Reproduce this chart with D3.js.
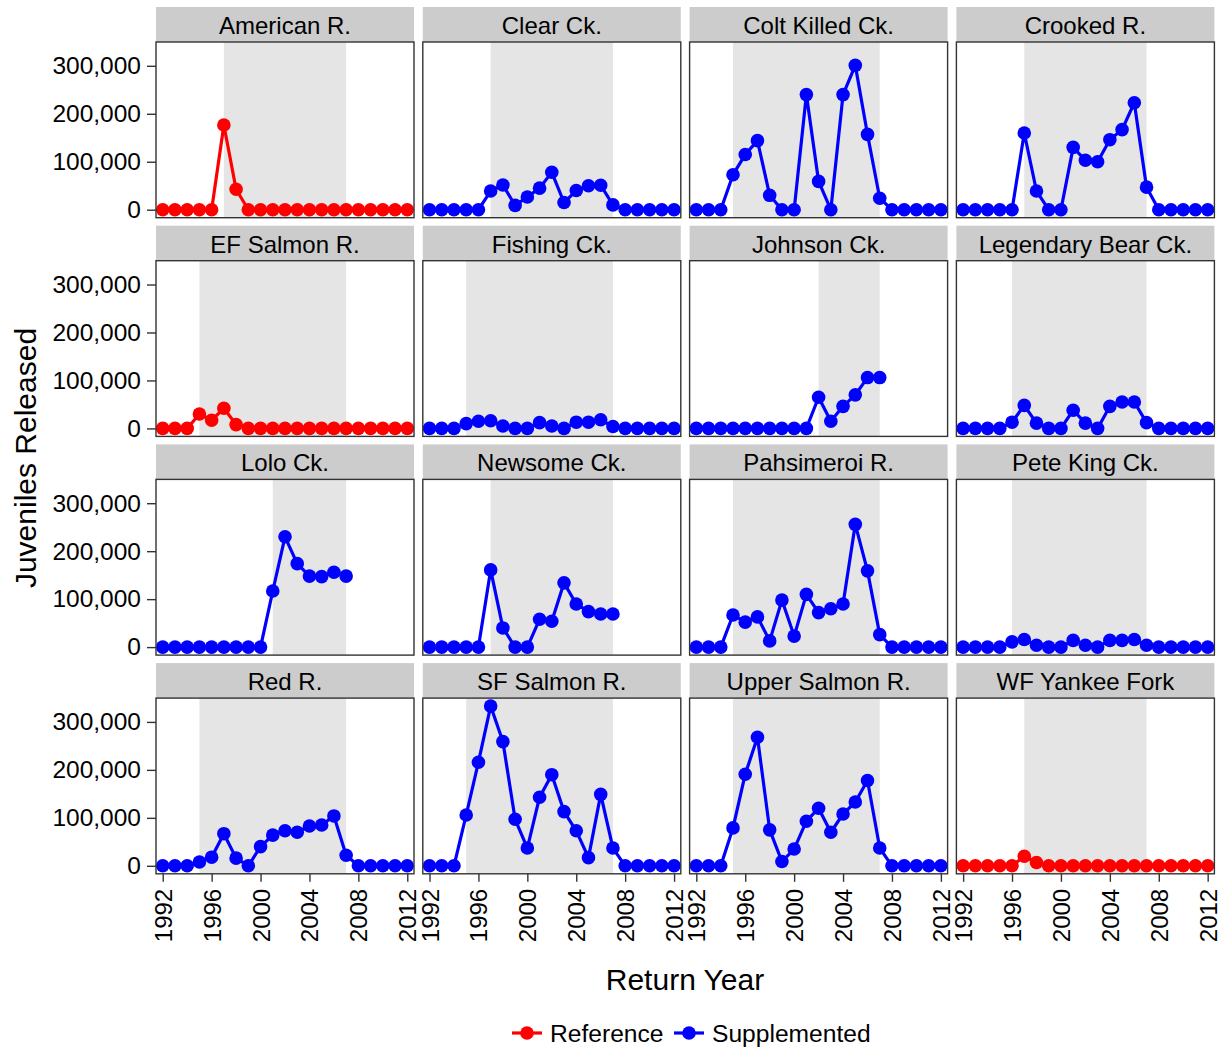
<!DOCTYPE html>
<html>
<head>
<meta charset="utf-8">
<script src="https://cdn.jsdelivr.net/npm/d3@7"></script>
<style>
  body { margin: 0; background: #fff; }
  text { font-family: "Liberation Sans", Arial, sans-serif; fill: #000; }
</style>
</head>
<body>
<svg id="chart" width="1228" height="1050"></svg>
<script>
const years = [1992, 1993, 1994, 1995, 1996, 1997, 1998, 1999, 2000, 2001, 2002,
  2003, 2004, 2005, 2006, 2007, 2008, 2009, 2010, 2011, 2012];
const tickYears = [1992, 1996, 2000, 2004, 2008, 2012];
const yTicks = [0, 100000, 200000, 300000];

const sites = ['American R.', 'Clear Ck.', 'Colt Killed Ck.', 'Crooked R.',
  'EF Salmon R.', 'Fishing Ck.', 'Johnson Ck.', 'Legendary Bear Ck.',
  'Lolo Ck.', 'Newsome Ck.', 'Pahsimeroi R.', 'Pete King Ck.',
  'Red R.', 'SF Salmon R.', 'Upper Salmon R.', 'WF Yankee Fork'];
const siteGroups = ['Reference', 'Supplemented', 'Supplemented', 'Supplemented',
  'Reference', 'Supplemented', 'Supplemented', 'Supplemented',
  'Supplemented', 'Supplemented', 'Supplemented', 'Supplemented',
  'Supplemented', 'Supplemented', 'Supplemented', 'Reference'];
const shadeStart = [1997, 1997, 1995, 1997, 1995, 1995, 2002, 1996,
  2001, 1997, 1995, 1996, 1995, 1995, 1995, 1997];
const shadeEnd = [2007, 2007, 2007, 2007, 2007, 2007, 2007, 2007,
  2007, 2007, 2007, 2007, 2007, 2007, 2007, 2007];

// juveniles released per year, starting 1992
const americanR = [0, 0, 0, 0, 0, 176600, 42600, 0, 0, 0, 0, 0, 0, 0, 0, 0, 0, 0, 0, 0, 0];
const clearCk = [0, 0, 0, 0, 0, 39000, 51600, 9000, 26500, 45000, 78000, 15000, 40000, 50000, 51000, 10000, 0, 0, 0, 0, 0];
const coltKilledCk = [0, 0, 0, 73000, 115000, 144000, 30000, 0, 0, 240000, 59000, 0, 240000, 301000, 157000, 24000, 0, 0, 0, 0, 0];
const crookedR = [0, 0, 0, 0, 0, 160000, 39000, 0, 0, 130000, 103000, 100000, 146000, 167000, 223000, 47000, 0, 0, 0, 0, 0];
const efSalmonR = [0, 0, 0, 30000, 17000, 42000, 8000, 0, 0, 0, 0, 0, 0, 0, 0, 0, 0, 0, 0, 0, 0];
const fishingCk = [0, 0, 0, 10000, 15000, 16000, 5000, 0, 0, 12000, 5000, 0, 13000, 13000, 18000, 4000, 0, 0, 0, 0, 0];
const johnsonCk = [0, 0, 0, 0, 0, 0, 0, 0, 0, 0, 65000, 15000, 46000, 70000, 106000, 106000];
const legendaryBearCk = [0, 0, 0, 0, 13000, 48000, 11000, 0, 0, 38000, 11000, 0, 46000, 55000, 55000, 12000, 0, 0, 0, 0, 0];
const loloCk = [0, 0, 0, 0, 0, 0, 0, 0, 0, 117000, 230000, 174000, 148000, 147000, 156000, 148000];
const newsomeCk = [0, 0, 0, 0, 0, 161000, 40000, 0, 0, 58000, 54000, 134000, 90000, 74000, 69000, 69000];
const pahsimeroiR = [0, 0, 0, 67000, 52000, 63000, 13000, 98000, 23000, 110000, 72000, 80000, 90000, 256000, 159000, 26000, 0, 0, 0, 0, 0];
const peteKingCk = [0, 0, 0, 0, 11000, 16000, 4000, 0, 0, 14000, 4000, 0, 14000, 14000, 16000, 4000, 0, 0, 0, 0, 0];
const redR = [0, 0, 0, 8000, 18000, 67000, 16000, 0, 40000, 64000, 73000, 70000, 83000, 85000, 104000, 22000, 0, 0, 0, 0, 0];
const sfSalmonR = [0, 0, 0, 106000, 216000, 333000, 259000, 97000, 37000, 143000, 190000, 113000, 73000, 17000, 149000, 37000, 0, 0, 0, 0, 0];
const upperSalmonR = [0, 0, 0, 79000, 191000, 268000, 75000, 9000, 35000, 93000, 120000, 70000, 108000, 133000, 178000, 37000, 0, 0, 0, 0, 0];
const wfYankeeFork = [0, 0, 0, 0, 0, 20000, 7000, 0, 0, 0, 0, 0, 0, 0, 0, 0, 0, 0, 0, 0, 0];

const siteValues = [americanR, clearCk, coltKilledCk, crookedR,
  efSalmonR, fishingCk, johnsonCk, legendaryBearCk,
  loloCk, newsomeCk, pahsimeroiR, peteKingCk,
  redR, sfSalmonR, upperSalmonR, wfYankeeFork];

const groupColor = {Reference: '#ff0000', Supplemented: '#0000ff'};

// layout
const panelLeft = 156;
const colPitch = 266.8;
const panelWidth = 258;
const stripTop = 7;
const rowPitch = 218.7;
const stripHeight = 35;
const panelHeight = 175.7;
const nCols = 4;
const dotR = 6.8;

const svg = d3.select('#chart');

const x = d3.scaleLinear()
  .domain([1991.45, 2012.55])
  .range([0, panelWidth]);

const yMax = d3.max(siteValues, (v) => d3.max(v));
const y = d3.scaleLinear()
  .domain([-yMax * 0.05, yMax * 1.05])
  .range([panelHeight, 0]);

const line = d3.line()
  .x((d) => x(d.year))
  .y((d) => y(d.value));

sites.forEach((site, i) => {
  const col = i % nCols;
  const row = Math.floor(i / nCols);
  const left = panelLeft + col * colPitch;
  const top = stripTop + row * rowPitch;
  const color = groupColor[siteGroups[i]];
  const points = siteValues[i].map((v, k) => ({year: years[k], value: v}));

  const g = svg.append('g').attr('transform', `translate(${left},${top})`);

  // strip
  g.append('rect')
    .attr('width', panelWidth)
    .attr('height', stripHeight)
    .attr('fill', '#cccccc');
  g.append('text')
    .attr('x', panelWidth / 2)
    .attr('y', stripHeight / 2 + 1)
    .attr('text-anchor', 'middle')
    .attr('dominant-baseline', 'central')
    .attr('font-size', 24)
    .attr('fill', '#111')
    .text(site);

  const p = g.append('g').attr('transform', `translate(0,${stripHeight})`);

  p.append('rect')
    .attr('width', panelWidth)
    .attr('height', panelHeight)
    .attr('fill', '#fff');

  // supplementation period
  p.append('rect')
    .attr('x', x(shadeStart[i]))
    .attr('width', x(shadeEnd[i]) - x(shadeStart[i]))
    .attr('height', panelHeight)
    .attr('fill', '#e5e5e5');

  p.append('path')
    .datum(points)
    .attr('fill', 'none')
    .attr('stroke', color)
    .attr('stroke-width', 3.2)
    .attr('stroke-linejoin', 'round')
    .attr('d', line);

  p.selectAll('circle').data(points).enter()
    .append('circle')
    .attr('cx', (d) => x(d.year))
    .attr('cy', (d) => y(d.value))
    .attr('r', dotR)
    .attr('fill', color);

  p.append('rect')
    .attr('width', panelWidth)
    .attr('height', panelHeight)
    .attr('fill', 'none')
    .attr('stroke', '#333')
    .attr('stroke-width', 1.4);

  // y axis on first column
  if (col === 0) {
    const ya = p.append('g')
      .call(d3.axisLeft(y).tickValues(yTicks).tickSize(9).tickPadding(6)
        .tickFormat(d3.format(',')));
    ya.select('.domain').remove();
    ya.selectAll('line').attr('stroke', '#333').attr('stroke-width', 1.4);
    ya.selectAll('text')
      .attr('font-size', 24.5)
      .attr('font-family', '"Liberation Sans", Arial, sans-serif')
      .attr('fill', '#111');
  }

  // x axis on last row
  if (row === 3) {
    const xa = p.append('g')
      .attr('transform', `translate(0,${panelHeight})`)
      .call(d3.axisBottom(x).tickValues(tickYears).tickSize(8).tickFormat(d3.format('d')));
    xa.select('.domain').remove();
    xa.selectAll('line').attr('stroke', '#333').attr('stroke-width', 1.4);
    xa.selectAll('text')
      .attr('font-size', 24)
      .attr('font-family', '"Liberation Sans", Arial, sans-serif')
      .attr('fill', '#111')
      .attr('text-anchor', 'end')
      .attr('dominant-baseline', 'central')
      .attr('dy', null)
      .attr('y', 0)
      .attr('transform', 'translate(0,15) rotate(-90)');
  }
});

// axis titles
svg.append('text')
  .attr('x', 685)
  .attr('y', 990)
  .attr('text-anchor', 'middle')
  .attr('font-size', 30)
  .text('Return Year');

svg.append('text')
  .attr('transform', 'translate(36,458) rotate(-90)')
  .attr('text-anchor', 'middle')
  .attr('font-size', 30)
  .text('Juveniles Released');

// legend
const legendItems = ['Reference', 'Supplemented'];
const legendX = [512, 674];
const legend = svg.append('g').attr('transform', 'translate(0,1033)');
legendItems.forEach((name, i) => {
  const lg = legend.append('g').attr('transform', `translate(${legendX[i]},0)`);
  lg.append('line')
    .attr('x1', 0).attr('x2', 30)
    .attr('stroke', groupColor[name])
    .attr('stroke-width', 3.2);
  lg.append('circle')
    .attr('cx', 15)
    .attr('r', dotR)
    .attr('fill', groupColor[name]);
  lg.append('text')
    .attr('x', 38)
    .attr('dominant-baseline', 'central')
    .attr('font-size', 24.6)
    .text(name);
});
</script>
</body>
</html>
